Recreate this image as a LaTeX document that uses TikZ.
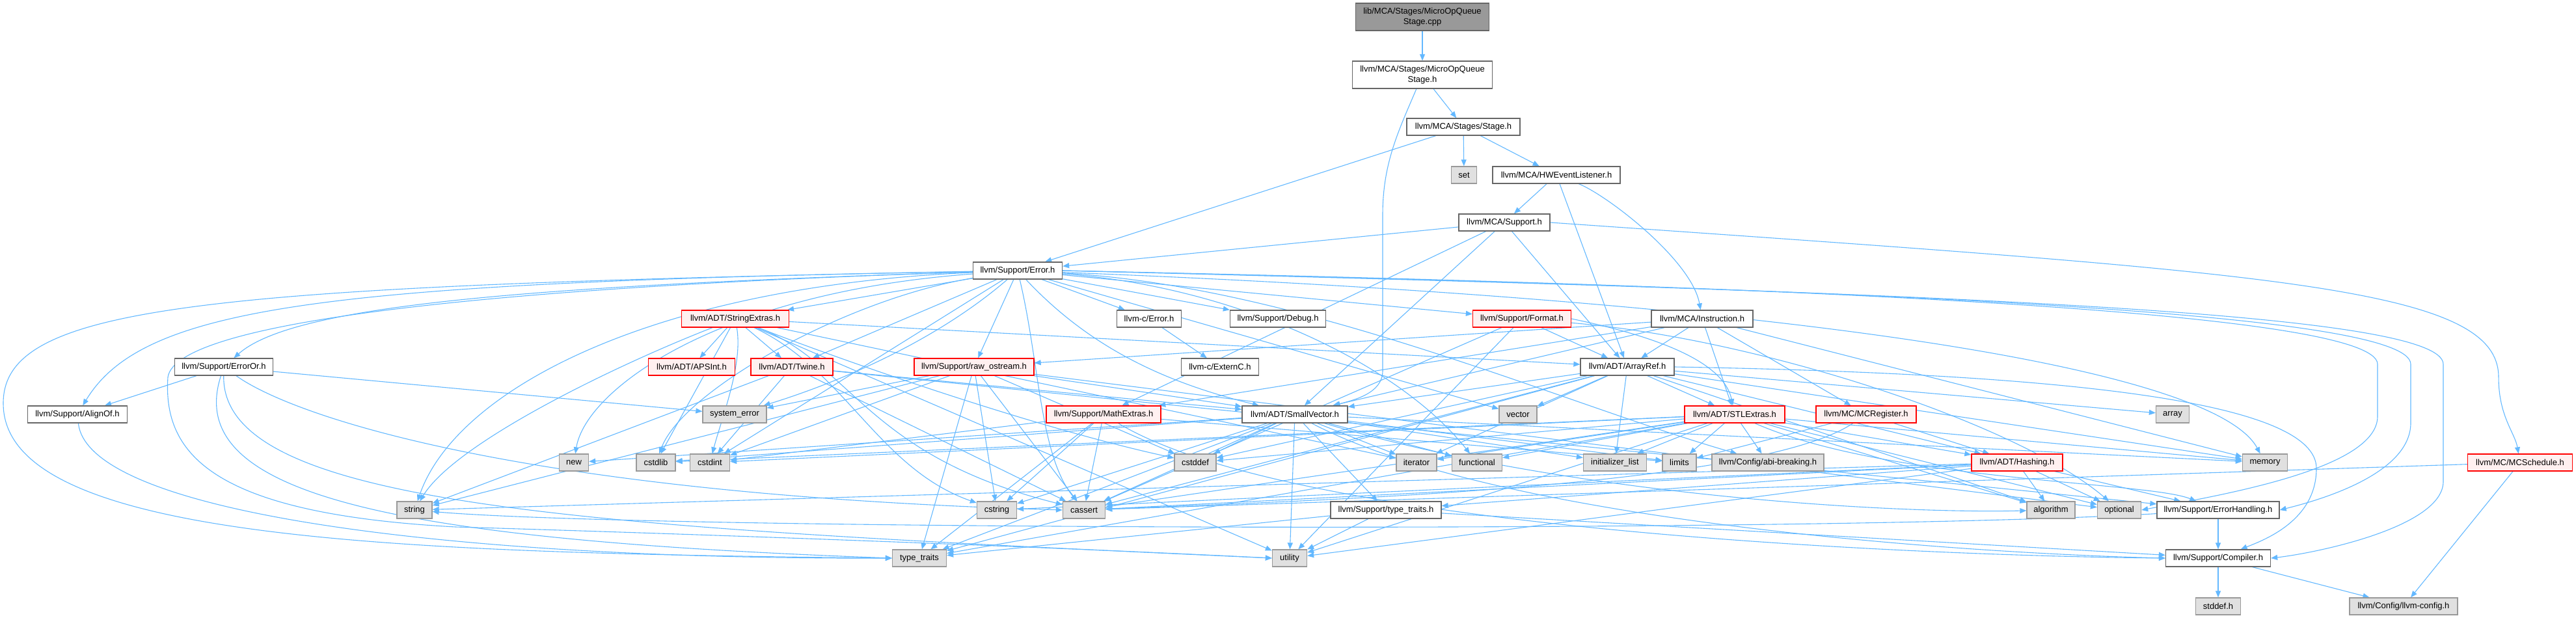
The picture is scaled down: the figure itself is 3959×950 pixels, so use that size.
\documentclass[tikz,border=0pt]{standalone}
\usepackage{fontspec}
\setmainfont{Liberation Sans}
\usetikzlibrary{arrows.meta}
\definecolor{ecol}{HTML}{63B8FF}
\definecolor{bgray}{HTML}{666666}
\definecolor{lgray}{HTML}{999999}
\definecolor{fgray}{HTML}{E0E0E0}
\definecolor{rfill}{HTML}{FFF0F0}
\definecolor{rline}{HTML}{FF0000}
\pgfdeclarelayer{bg}
\pgfsetlayers{bg,main}
\tikzset{
 nbase/.style={draw, line width=1.3pt, inner sep=0pt, minimum height=26pt, font=\fontsize{13}{15.5}\selectfont, align=center},
 nd/.style={nbase, draw=bgray, fill=white},
 gnd/.style={nbase, draw=lgray, fill=fgray},
 rnd/.style={nbase, draw=rline, fill=rfill},
 topnd/.style={nbase, draw=bgray, fill=lgray},
 ed/.style={draw=ecol, line width=1.1pt, -{Triangle[length=10pt,width=8pt]}}
}
\begin{document}
\begin{tikzpicture}[x=1pt,y=-1pt]
\useasboundingbox (0,0) rectangle (3959,950);
\node[topnd, minimum width=205pt, minimum height=42pt] (cpp) at (2186,26) {lib/MCA/Stages/MicroOpQueue\\Stage.cpp};
\node[nd, minimum width=215pt, minimum height=42pt] (mqs) at (2186,115) {llvm/MCA/Stages/MicroOpQueue\\Stage.h};
\node[nd, minimum width=174pt] (stage) at (2249,195) {llvm/MCA/Stages/Stage.h};
\node[gnd, minimum width=39pt] (set) at (2250,269) {set};
\node[nd, minimum width=196pt] (hwel) at (2392,269) {llvm/MCA/HWEventListener.h};
\node[nd, minimum width=140pt] (mcasup) at (2312,342) {llvm/MCA/Support.h};
\node[nd, minimum width=137pt] (err) at (1564,416) {llvm/Support/Error.h};
\node[rnd, minimum width=165pt] (strext) at (1130,490) {llvm/ADT/StringExtras.h};
\node[nd, minimum width=99pt] (cerr) at (1766,490) {llvm-c/Error.h};
\node[nd, minimum width=147pt] (debug) at (1964,490) {llvm/Support/Debug.h};
\node[rnd, minimum width=151pt] (format) at (2339,490) {llvm/Support/Format.h};
\node[nd, minimum width=156pt] (instr) at (2616,490) {llvm/MCA/Instruction.h};
\node[nd, minimum width=151pt] (erroror) at (344,564) {llvm/Support/ErrorOr.h};
\node[rnd, minimum width=133pt] (apsint) at (1063,564) {llvm/ADT/APSInt.h};
\node[rnd, minimum width=126pt] (twine) at (1217,564) {llvm/ADT/Twine.h};
\node[rnd, minimum width=184pt] (rawos) at (1497,564) {llvm/Support/raw\_ostream.h};
\node[nd, minimum width=119pt] (externc) at (1875,564) {llvm-c/ExternC.h};
\node[nd, minimum width=144pt] (arrayref) at (2501,564) {llvm/ADT/ArrayRef.h};
\node[nd, minimum width=153pt] (alignof) at (119,637) {llvm/Support/AlignOf.h};
\node[gnd, minimum width=98pt] (syserr) at (1129,637) {system\_error};
\node[rnd, minimum width=176pt] (mathext) at (1696,637) {llvm/Support/MathExtras.h};
\node[nd, minimum width=162pt] (smallvec) at (1990,637) {llvm/ADT/SmallVector.h};
\node[gnd, minimum width=58pt] (vector) at (2333,637) {vector};
\node[rnd, minimum width=154pt] (stlext) at (2666,637) {llvm/ADT/STLExtras.h};
\node[rnd, minimum width=154pt] (mcreg) at (2868,637) {llvm/MC/MCRegister.h};
\node[gnd, minimum width=51pt] (array) at (3339,637) {array};
\node[gnd, minimum width=45pt] (new) at (882,711) {new};
\node[gnd, minimum width=60pt] (cstdlib) at (1008,711) {cstdlib};
\node[gnd, minimum width=61pt] (cstdint) at (1091,711) {cstdint};
\node[gnd, minimum width=64pt] (cstddef) at (1837,711) {cstddef};
\node[gnd, minimum width=62pt] (iterator) at (2177,711) {iterator};
\node[gnd, minimum width=77pt] (functional) at (2270,711) {functional};
\node[gnd, minimum width=97pt] (initlist) at (2482,711) {initializer\_list};
\node[gnd, minimum width=52pt] (limits) at (2581,711) {limits};
\node[gnd, minimum width=172pt] (abi) at (2717,711) {llvm/Config/abi-breaking.h};
\node[rnd, minimum width=140pt] (hashing) at (3100,711) {llvm/ADT/Hashing.h};
\node[gnd, minimum width=69pt] (memory) at (3481,711) {memory};
\node[rnd, minimum width=161pt] (mcsched) at (3873,711) {llvm/MC/MCSchedule.h};
\node[gnd, minimum width=54pt] (string) at (637,784) {string};
\node[gnd, minimum width=61pt] (cstring) at (1532,784) {cstring};
\node[gnd, minimum width=65pt] (cassert) at (1666,784) {cassert};
\node[nd, minimum width=170pt] (sttraits) at (2130,784) {llvm/Support/type\_traits.h};
\node[gnd, minimum width=74pt] (algorithm) at (3152,784) {algorithm};
\node[gnd, minimum width=67pt] (optional) at (3257,784) {optional};
\node[nd, minimum width=188pt] (errh) at (3409,784) {llvm/Support/ErrorHandling.h};
\node[gnd, minimum width=83pt] (typetraits) at (1413,858) {type\_traits};
\node[gnd, minimum width=53pt] (utility) at (1982,858) {utility};
\node[nd, minimum width=161pt] (compiler) at (3409,858) {llvm/Support/Compiler.h};
\node[gnd, minimum width=69pt] (stddef) at (3409,932) {stddef.h};
\node[gnd, minimum width=166pt] (llvmconfig) at (3694,932) {llvm/Config/llvm-config.h};

\begin{pgfonlayer}{bg}
% top part
\draw[ed] (cpp) -- (mqs);
\draw[ed] (mqs) -- (stage);
\draw[ed] (mqs) .. controls (2150,200) and (2125,250) .. (2125,330) -- (2125,570) .. controls (2125,605) and (2080,615) .. ([xshift=-22pt]smallvec.north east);
\draw[ed] (stage) -- (set);
\draw[ed] (stage) -- (hwel);
\draw[ed] (stage) -- (err);
\draw[ed] (hwel) -- (mcasup);
\draw[ed] (hwel) -- (arrayref);
\draw[ed] (hwel) .. controls (2470,300) and (2600,400) .. (instr);
\draw[ed] (mcasup) -- (err);
\draw[ed] (mcasup) -- (smallvec);
\draw[ed] (mcasup) -- (mathext);
\draw[ed] (mcasup) -- (arrayref);
\draw[ed] (mcasup.east) .. controls (3500,420) and (3840,440) .. (3840,580) .. controls (3840,640) and (3865,665) .. (mcsched);
% Error.h
\draw[ed] (err) -- (cerr);
\draw[ed] (err) -- (debug);
\draw[ed] (err) -- (format);
\draw[ed] (err) -- (strext);
\draw[ed] (err) -- (twine);
\draw[ed] (err) -- (rawos);
\draw[ed] (err) .. controls (1680,540) and (1800,590) .. (smallvec);
\draw[ed] (err) .. controls (800,440) and (450,470) .. (erroror);
\draw[ed] (err) .. controls (500,435) and (220,470) .. (alignof);
\draw[ed] (err) .. controls (300,440) and (5,470) .. (5,620) .. controls (5,830) and (600,850) .. (typetraits.west);
\draw[ed] (err) .. controls (800,440) and (270,490) .. (258,580) .. controls (250,700) and (330,790) .. (700,810) .. controls (1200,825) and (1700,845) .. (utility.west);
\draw[ed] (err) .. controls (1000,440) and (700,600) .. (string);
\draw[ed] (err) .. controls (1100,450) and (900,600) .. (new);
\draw[ed] (err) .. controls (1300,460) and (1050,600) .. (cstdlib);
\draw[ed] (err) -- (cstdint);
\draw[ed] (err) .. controls (1420,540) and (1250,600) .. (syserr);
\draw[ed] (err) .. controls (1598,560) and (1598,700) .. (cassert);
\draw[ed] (err) -- (vector);
\draw[ed] (err) .. controls (1900,440) and (2150,560) .. (functional);
\draw[ed] (err) .. controls (2000,440) and (2400,620) .. (abi);
\draw[ed] (err) .. controls (2700,460) and (3400,560) .. (memory);
\draw[ed] (err.east) .. controls (2800,440) and (3654,480) .. (3654,560) -- (3654,640) .. controls (3654,720) and (3420,760) .. (optional.east);
\draw[ed] (err.east) .. controls (2900,445) and (3705,480) .. (3705,560) -- (3705,650) .. controls (3705,730) and (3560,770) .. (errh.east);
\draw[ed] (err.east) .. controls (3000,450) and (3755,480) .. (3755,560) -- (3755,740) .. controls (3755,810) and (3560,850) .. (compiler.east);
% ErrorOr.h
\draw[ed] (erroror) -- (alignof);
\draw[ed] (erroror) -- (syserr);
\draw[ed] (erroror) .. controls (280,760) and (600,830) .. (typetraits.west);
\draw[ed] (erroror) .. controls (340,780) and (900,810) .. (utility.west);
\draw[ed] (erroror) .. controls (450,640) and (800,760) .. (cassert.west);
% AlignOf.h
\draw[ed] (alignof) .. controls (135,790) and (700,860) .. (typetraits.west);
% StringExtras.h
\draw[ed] (strext) -- (apsint);
\draw[ed] (strext) -- (twine);
\draw[ed] (strext) -- (arrayref);
\draw[ed] (strext) .. controls (1310,560) and (1330,700) .. (cassert);
\draw[ed] (strext) .. controls (1310,560) and (1600,660) .. (cstddef);
\draw[ed] (strext) .. controls (1142,560) and (1110,640) .. (cstdint);
\draw[ed] (strext) -- (cstdlib);
\draw[ed] (strext) .. controls (1300,570) and (1350,720) .. (cstring);
\draw[ed] (strext) -- (iterator);
\draw[ed] (strext) .. controls (950,560) and (700,680) .. (string);
\draw[ed] (strext) -- (utility);
% Twine.h
\draw[ed] (twine) -- (smallvec);
\draw[ed] (twine) -- (errh);
\draw[ed] (twine) -- (cassert);
\draw[ed] (twine) -- (cstdint);
\draw[ed] (twine) -- (string);
% raw_ostream.h
\draw[ed] (rawos) -- (smallvec);
\draw[ed] (rawos) -- (cassert);
\draw[ed] (rawos) -- (cstddef);
\draw[ed] (rawos) -- (cstdint);
\draw[ed] (rawos) -- (cstring);
\draw[ed] (rawos) -- (optional);
\draw[ed] (rawos) -- (string);
\draw[ed] (rawos) -- (syserr);
\draw[ed] (rawos) -- (typetraits);
% llvm-c/Error.h
\draw[ed] (cerr) -- (externc);
% Format.h
\draw[ed] (format) -- (arrayref);
\draw[ed] (format.east) .. controls (2560,520) and (2650,560) .. (stlext);
\draw[ed] (format) -- (cassert);
\draw[ed] (format) .. controls (2700,520) and (3100,650) .. (optional);
\draw[ed] (format) -- (utility);
% Instruction.h
\draw[ed] (instr) -- (arrayref);
\draw[ed] (instr) -- (stlext);
\draw[ed] (instr) -- (smallvec);
\draw[ed] (instr) -- (mcreg);
\draw[ed] (instr) -- (mathext);
\draw[ed] (instr) -- (rawos);
\draw[ed] (instr) -- (memory);
% ArrayRef.h
\draw[ed] (arrayref) -- (hashing);
\draw[ed] (arrayref) -- (stlext);
\draw[ed] (arrayref) -- (smallvec);
\draw[ed] (arrayref.east) .. controls (3200,575) and (3560,620) .. (3560,720) .. controls (3560,800) and (3480,830) .. (compiler);
\draw[ed] (arrayref) -- (algorithm);
\draw[ed] (arrayref) -- (array);
\draw[ed] (arrayref) -- (cassert);
\draw[ed] (arrayref) -- (cstddef);
\draw[ed] (arrayref) -- (initlist);
\draw[ed] (arrayref) -- (iterator);
\draw[ed] (arrayref) -- (memory);
\draw[ed] (arrayref) -- (typetraits);
\draw[ed] (arrayref) -- (vector);
% SmallVector.h
\draw[ed] (smallvec) .. controls (2300,800) and (3000,850) .. (compiler.west);
\draw[ed] (smallvec) -- (sttraits);
\draw[ed] (smallvec) .. controls (2400,760) and (2900,790) .. (algorithm);
\draw[ed] (smallvec) -- (cassert);
\draw[ed] (smallvec) -- (cstddef);
\draw[ed] (smallvec) -- (cstdlib);
\draw[ed] (smallvec) -- (cstring);
\draw[ed] (smallvec) -- (functional);
\draw[ed] (smallvec) -- (initlist);
\draw[ed] (smallvec) -- (iterator);
\draw[ed] (smallvec) -- (limits);
\draw[ed] (smallvec) -- (memory);
\draw[ed] (smallvec) -- (new);
\draw[ed] (smallvec) -- (typetraits);
\draw[ed] (smallvec) -- (utility);
% STLExtras.h
\draw[ed] (stlext) -- (hashing);
\draw[ed] (stlext) -- (abi);
\draw[ed] (stlext) .. controls (2900,740) and (3300,740) .. (errh);
\draw[ed] (stlext) -- (algorithm);
\draw[ed] (stlext) -- (cassert);
\draw[ed] (stlext) -- (cstddef);
\draw[ed] (stlext) -- (cstdint);
\draw[ed] (stlext) -- (cstdlib);
\draw[ed] (stlext) -- (functional);
\draw[ed] (stlext) -- (initlist);
\draw[ed] (stlext) -- (iterator);
\draw[ed] (stlext) -- (limits);
\draw[ed] (stlext) -- (memory);
\draw[ed] (stlext) -- (optional);
\draw[ed] (stlext) -- (typetraits);
\draw[ed] (stlext) -- (utility);
% MCRegister.h
\draw[ed] (mcreg) -- (hashing);
\draw[ed] (mcreg) .. controls (2700,750) and (2000,770) .. (cassert);
\draw[ed] (mcreg) -- (limits);
% Hashing.h
\draw[ed] (hashing) -- (errh);
\draw[ed] (hashing) -- (sttraits);
\draw[ed] (hashing) -- (algorithm);
\draw[ed] (hashing) -- (cassert);
\draw[ed] (hashing) -- (cstring);
\draw[ed] (hashing) -- (optional);
\draw[ed] (hashing) -- (string);
\draw[ed] (hashing) -- (utility);
% MathExtras.h
\draw[ed] (mathext) .. controls (2000,820) and (3000,855) .. (compiler.west);
\draw[ed] (mathext) -- (cassert);
\draw[ed] (mathext) -- (cstdint);
\draw[ed] (mathext) -- (cstring);
\draw[ed] (mathext) -- (limits);
\draw[ed] (mathext) -- (typetraits);
% MCSchedule.h
\draw[ed] (mcsched) -- (cassert);
\draw[ed] (mcsched) -- (llvmconfig);
% llvm/Support/type_traits.h
\draw[ed] (sttraits) -- (compiler);
\draw[ed] (sttraits) -- (typetraits);
\draw[ed] (sttraits) -- (utility);
% ErrorHandling.h
\draw[ed] (errh) -- (compiler);
\draw[ed] (errh) .. controls (2800,820) and (1000,815) .. (string);
% Compiler.h
\draw[ed] (compiler) -- (stddef);
\draw[ed] (compiler) -- (llvmconfig);
\end{pgfonlayer}
\end{tikzpicture}
\end{document}
